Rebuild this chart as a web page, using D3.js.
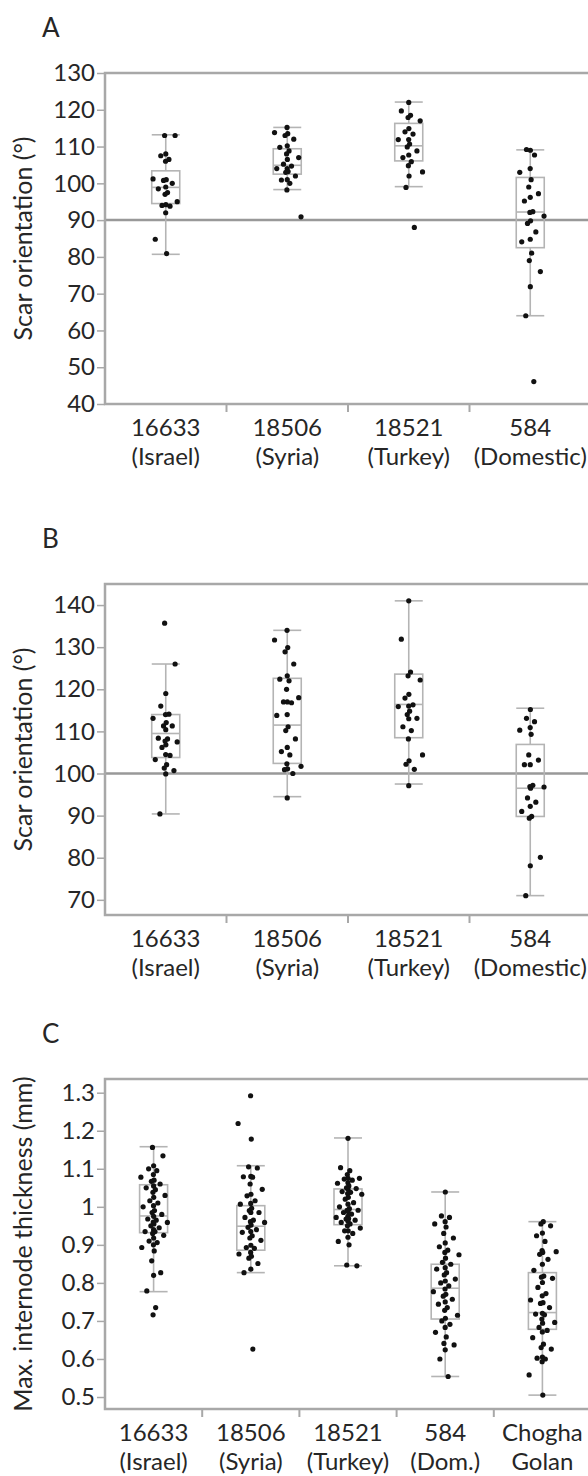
<!DOCTYPE html>
<html>
<head>
<meta charset="utf-8">
<script src="https://cdn.jsdelivr.net/npm/d3@7"></script>
<style>
body { margin: 0; background: #fff; }
text { font-family: Lato, "Open Sans", sans-serif; fill: #262626; }
</style>
</head>
<body>
<svg id="chart" width="588" height="1476"></svg>
<script>
// categories
const accAB = ["16633", "18506", "18521", "584"]
const originAB = ["(Israel)", "(Syria)", "(Turkey)", "(Domestic)"]
const accC = ["16633", "18506", "18521", "584", "Chogha"]
const originC = ["(Israel)", "(Syria)", "(Turkey)", "(Dom.)", "Golan"]

// tick labels
const ticksA = [40, 50, 60, 70, 80, 90, 100, 110, 120, 130]
const ticksB = [70, 80, 90, 100, 110, 120, 130, 140]
const ticksC = [0.5, 0.6, 0.7, 0.8, 0.9, 1, 1.1, 1.2, 1.3]

// panel A: scar orientation (deg)
const a16633 = [113, 113, 108, 107.5, 106.5, 106, 101.2, 101, 100.8, 100, 99, 98.5, 97.5, 97, 95, 94.2, 94, 93.8, 92, 84.8, 80.9]
const a18506 = [115.2, 113.8, 113.5, 113, 112, 110.2, 109.8, 108.8, 108, 107, 106.5, 105.2, 104.7, 104, 104, 103.2, 103, 102, 101, 100.9, 100, 98.2, 90.9]
const a18521 = [122, 119.7, 118.5, 117.9, 117, 114.9, 114, 113.4, 111.9, 111.9, 110.7, 109.9, 108.8, 107.7, 107, 105.9, 104.8, 103.1, 102, 98.9, 88]
const a584 = [109, 109.2, 107.7, 104, 103, 101, 99, 97.2, 96.2, 95.2, 92.3, 92.1, 91.1, 89.8, 89.1, 86.8, 84.8, 84.1, 81, 79, 76, 71.9, 64, 46.1]
// box stats: [q1, median, q3, whisker low, whisker high]
const boxA = [[94.5, 98.9, 103.4, 80.7, 113.2], [102.5, 104.9, 109.4, 98.3, 115.2], [106.1, 110.2, 116.3, 99.1, 122.1], [82.5, 92.2, 101.6, 64, 109.1]]
const refA = 90

// panel B: scar orientation (deg)
const b16633 = [135.7, 126, 119, 116, 114.1, 114, 113.1, 112.1, 111.3, 111.3, 110.4, 108.4, 108.2, 107.7, 107.5, 106.8, 106.2, 104.3, 104.5, 103.3, 102.1, 101.3, 100.7, 99.9, 90.4]
const b18506 = [134, 131.7, 129.9, 128.9, 126, 123.2, 122.4, 122, 120, 118, 117, 117, 116.8, 114, 113.8, 111.1, 110.2, 108.2, 106.2, 105.2, 104.4, 102.3, 101.7, 101.1, 100.9, 100, 94.2]
const b18521 = [141, 131.9, 124.1, 123.2, 122.2, 118.8, 117.9, 116.3, 116, 115.9, 114.8, 114, 113.1, 113, 111.1, 110.2, 108.2, 104.4, 103, 102.2, 101, 97.1]
const b584 = [115.2, 113.1, 112.3, 110.9, 110.3, 109.3, 104.4, 103.2, 102.1, 102.1, 97.2, 96.9, 96.8, 96.5, 94.2, 93.2, 92.2, 91, 89.8, 89.4, 80.1, 78.1, 71]
const boxB = [[103.8, 109.5, 114, 90.4, 126], [102.4, 111.5, 122.6, 94.5, 134], [108.5, 116.4, 123.6, 97.5, 141], [89.8, 96.5, 106.9, 71, 115.5]]
const refB = 100

// panel C: max. internode thickness (mm)
const c16633 = [1.156, 1.134, 1.108, 1.1, 1.095, 1.085, 1.078, 1.07, 1.067, 1.06, 1.055, 1.05, 1.045, 1.038, 1.03, 1.025, 1.016, 1.01, 1.003, 1, 0.99, 0.985, 0.98, 0.975, 0.968, 0.965, 0.96, 0.959, 0.955, 0.95, 0.945, 0.94, 0.935, 0.935, 0.93, 0.925, 0.918, 0.91, 0.906, 0.9, 0.893, 0.884, 0.858, 0.827, 0.82, 0.779, 0.735, 0.716]
const c18506 = [1.292, 1.219, 1.178, 1.105, 1.102, 1.08, 1.079, 1.078, 1.06, 1.046, 1.033, 1.029, 1.016, 1.009, 1.007, 0.996, 0.99, 0.985, 0.985, 0.972, 0.965, 0.961, 0.959, 0.952, 0.946, 0.94, 0.935, 0.933, 0.924, 0.918, 0.912, 0.899, 0.893, 0.891, 0.88, 0.876, 0.87, 0.865, 0.851, 0.836, 0.827, 0.626]
const c18521 = [1.18, 1.103, 1.095, 1.085, 1.075, 1.075, 1.073, 1.07, 1.063, 1.062, 1.055, 1.05, 1.048, 1.046, 1.04, 1.038, 1.035, 1.033, 1.025, 1.02, 1.011, 1.007, 1, 0.995, 0.991, 0.991, 0.988, 0.985, 0.981, 0.975, 0.972, 0.969, 0.968, 0.965, 0.962, 0.959, 0.955, 0.95, 0.944, 0.937, 0.937, 0.93, 0.92, 0.909, 0.9, 0.847, 0.845]
const c584 = [1.039, 0.976, 0.972, 0.961, 0.955, 0.947, 0.93, 0.918, 0.905, 0.895, 0.886, 0.88, 0.874, 0.865, 0.854, 0.849, 0.84, 0.836, 0.827, 0.821, 0.81, 0.805, 0.8, 0.792, 0.784, 0.777, 0.77, 0.765, 0.757, 0.75, 0.744, 0.735, 0.728, 0.715, 0.707, 0.7, 0.691, 0.683, 0.67, 0.658, 0.641, 0.637, 0.624, 0.6, 0.554]
const cChogha = [0.961, 0.955, 0.95, 0.931, 0.924, 0.909, 0.885, 0.882, 0.88, 0.875, 0.862, 0.849, 0.833, 0.818, 0.815, 0.812, 0.801, 0.788, 0.772, 0.766, 0.755, 0.748, 0.746, 0.735, 0.72, 0.718, 0.716, 0.705, 0.696, 0.694, 0.683, 0.675, 0.671, 0.656, 0.639, 0.63, 0.626, 0.605, 0.602, 0.6, 0.593, 0.558, 0.505]
const boxC = [[0.932, 0.976, 1.058, 0.777, 1.158], [0.886, 0.949, 1.003, 0.827, 1.108], [0.953, 0.993, 1.047, 0.845, 1.181], [0.705, 0.786, 0.849, 0.554, 1.039], [0.678, 0.722, 0.827, 0.505, 0.961]]

const svg = d3.select("#chart")
const left = 105, right = 591
const boxW = 28
const frameColor = "#a8a8a8", boxColor = "#b4b4b4", refColor = "#999"

// spread dots sideways round the box centre (layout only)
function jitter(i) {
    let u = ((i * 0.6180339887 + 0.31) % 1) * 2 - 1
    return Math.sign(u) * Math.pow(Math.abs(u), 2.6) * boxW * 0.5
}

function drawPanel(p) {
    let g = svg.append("g")
    let x = d3.scaleBand().domain(p.acc).range([left, right])
    let y = d3.scaleLinear().domain(p.domain).range([p.bottom, p.top])

    g.append("text")
        .attr("x", 42).attr("y", p.top - 36)
        .style("font-size", "26px")
        .text(p.letter)

    // y axis ticks + labels
    let ya = g.append("g")
        .attr("transform", `translate(${left},0)`)
        .call(d3.axisLeft(y).tickValues(p.ticks).tickSize(8).tickPadding(2).tickFormat(d => String(+d.toFixed(1))))
    ya.select(".domain").remove()
    ya.selectAll(".tick line").attr("stroke", frameColor).attr("stroke-width", 1.5)
    ya.selectAll(".tick text").style("font-size", "24px").attr("fill", "#262626").style("font-family", "Lato, sans-serif")

    g.append("text")
        .attr("transform", `translate(32,${(p.top + p.bottom) / 2}) rotate(-90)`)
        .attr("text-anchor", "middle")
        .style("font-size", "25px")
        .text(p.title)

    // reference line
    if (p.ref != null) {
        g.append("line")
            .attr("x1", left).attr("x2", right)
            .attr("y1", y(p.ref)).attr("y2", y(p.ref))
            .attr("stroke", refColor).attr("stroke-width", 2.5)
    }

    // frame
    g.append("rect")
        .attr("x", left).attr("y", p.top)
        .attr("width", right - left).attr("height", p.bottom - p.top)
        .attr("fill", "none").attr("stroke", frameColor).attr("stroke-width", 2.5)

    // boundary ticks under x axis
    g.selectAll(".xt").data(p.acc.slice(1)).enter().append("line")
        .attr("x1", d => x(d)).attr("x2", d => x(d))
        .attr("y1", p.bottom).attr("y2", p.bottom + 8)
        .attr("stroke", frameColor).attr("stroke-width", 2)

    let lab = g.selectAll(".xl").data(p.acc).enter().append("text")
        .attr("text-anchor", "middle")
        .style("font-size", "24px")
    lab.append("tspan")
        .attr("x", d => x(d) + x.bandwidth() / 2).attr("y", p.bottom + 32)
        .text(d => d)
    lab.append("tspan")
        .attr("x", d => x(d) + x.bandwidth() / 2).attr("y", p.bottom + 61)
        .text((d, i) => p.origin[i])

    // boxes and whiskers
    p.acc.forEach((a, i) => {
        let cx = x(a) + x.bandwidth() / 2
        let [q1, med, q3, lo, hi] = p.boxes[i]
        let bg = g.append("g").attr("stroke", boxColor).attr("stroke-width", 1.6).attr("fill", "none")
        bg.append("line").attr("x1", cx).attr("x2", cx).attr("y1", y(hi)).attr("y2", y(q3))
        bg.append("line").attr("x1", cx).attr("x2", cx).attr("y1", y(q1)).attr("y2", y(lo))
        bg.append("line").attr("x1", cx - boxW / 2).attr("x2", cx + boxW / 2).attr("y1", y(hi)).attr("y2", y(hi))
        bg.append("line").attr("x1", cx - boxW / 2).attr("x2", cx + boxW / 2).attr("y1", y(lo)).attr("y2", y(lo))
        bg.append("rect").attr("x", cx - boxW / 2).attr("width", boxW)
            .attr("y", y(q3)).attr("height", y(q1) - y(q3))
        bg.append("line").attr("x1", cx - boxW / 2).attr("x2", cx + boxW / 2).attr("y1", y(med)).attr("y2", y(med))

        g.append("g").selectAll("circle")
            .data(p.points[i])
            .enter()
            .append("circle")
            .attr("cx", (d, j) => cx + jitter(j + i * 5))
            .attr("cy", d => y(d))
            .attr("r", 2.6)
            .attr("fill", "#111")
    })
}

drawPanel({
    letter: "A", title: "Scar orientation (°)",
    top: 73, bottom: 404, domain: [40, 130], ticks: ticksA,
    acc: accAB, origin: originAB, boxes: boxA, ref: refA,
    points: [a16633, a18506, a18521, a584]
})
drawPanel({
    letter: "B", title: "Scar orientation (°)",
    top: 584, bottom: 915, domain: [66.4, 145], ticks: ticksB,
    acc: accAB, origin: originAB, boxes: boxB, ref: refB,
    points: [b16633, b18506, b18521, b584]
})
drawPanel({
    letter: "C", title: "Max. internode thickness (mm)",
    top: 1079, bottom: 1409, domain: [0.4685, 1.336], ticks: ticksC,
    acc: accC, origin: originC, boxes: boxC, ref: null,
    points: [c16633, c18506, c18521, c584, cChogha]
})
</script>
</body>
</html>
